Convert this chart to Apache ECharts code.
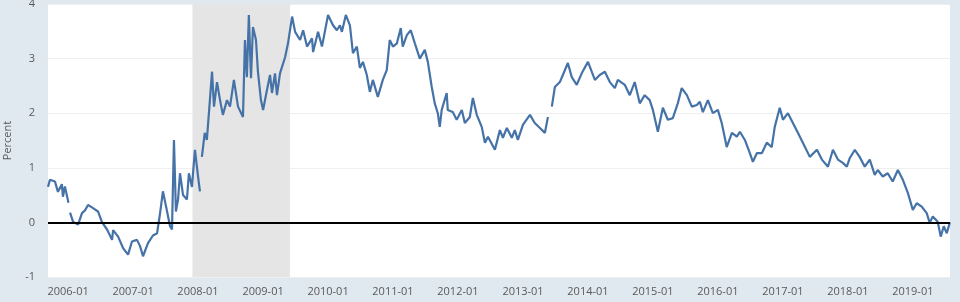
<!DOCTYPE html>
<html>
<head>
<meta charset="utf-8">
<script src="https://cdn.jsdelivr.net/npm/echarts@6/dist/echarts.min.js"></script>
<style>
html,body{margin:0;padding:0;background:#e1e9f0;}
#chart{width:960px;height:302px;}
</style>
</head>
<body>
<div id="chart"></div>
<script>
const dates = [
'2005-09-10','2005-09-21','2005-10-19','2005-11-05','2005-11-27','2005-12-03','2005-12-14',
'2006-01-03','2006-01-07','2006-01-12','2006-01-29','2006-02-26','2006-03-20','2006-04-06','2006-04-23','2006-05-21','2006-06-18','2006-07-11','2006-08-08','2006-09-05','2006-09-11','2006-10-09','2006-11-06','2006-12-04','2006-12-26',
'2007-01-23','2007-02-09','2007-02-26','2007-03-26','2007-04-23','2007-05-16','2007-06-02','2007-06-18','2007-07-05','2007-07-28','2007-08-08','2007-08-19','2007-08-30','2007-09-11','2007-09-22','2007-10-09','2007-10-31','2007-11-11','2007-11-28','2007-12-15',
'2008-01-01','2008-01-12','2008-01-17','2008-01-23','2008-02-08','2008-02-20','2008-03-08','2008-03-20','2008-03-31','2008-04-17','2008-05-04','2008-05-20','2008-06-12','2008-06-29','2008-07-21','2008-08-13','2008-09-04','2008-09-10','2008-09-21','2008-10-02','2008-10-13','2008-10-25','2008-11-05','2008-11-22','2008-12-03','2008-12-20',
'2009-01-01','2009-01-23','2009-02-09','2009-02-20','2009-03-09','2009-03-20','2009-04-06','2009-05-05','2009-05-21','2009-06-13','2009-06-30','2009-07-28','2009-08-14','2009-09-05','2009-09-11','2009-10-03','2009-10-09','2009-11-06','2009-11-28',
'2010-01-01','2010-01-29','2010-02-20','2010-03-09','2010-03-20','2010-04-11','2010-05-04','2010-05-21','2010-06-12','2010-06-29','2010-07-16','2010-08-07','2010-08-24','2010-09-10','2010-10-08','2010-11-05','2010-11-27','2010-12-14',
'2011-01-01','2011-01-23','2011-02-14','2011-02-25','2011-03-20','2011-04-11','2011-05-04','2011-06-01','2011-06-29','2011-07-16','2011-08-07','2011-08-24','2011-09-10','2011-09-21','2011-10-02','2011-10-30','2011-11-05','2011-12-03','2011-12-25',
'2012-01-23','2012-02-09','2012-03-08','2012-03-25','2012-04-16','2012-05-14','2012-06-01','2012-06-18','2012-07-27','2012-08-24','2012-09-10','2012-10-02','2012-10-30','2012-11-16','2012-12-03',
'2013-01-01','2013-02-09','2013-03-08','2013-04-06','2013-05-04','2013-05-21','2013-05-26','2013-06-12','2013-06-29','2013-07-27','2013-08-13','2013-09-10','2013-10-02','2013-10-30','2013-11-27',
'2014-01-01','2014-02-09','2014-03-08','2014-04-06','2014-05-04','2014-06-01','2014-06-18','2014-07-27','2014-08-24','2014-09-21','2014-10-19','2014-11-16','2014-12-14',
'2015-01-01','2015-01-29','2015-02-26','2015-03-26','2015-04-23','2015-05-21','2015-06-12','2015-07-11','2015-08-08','2015-09-05','2015-09-22','2015-10-09','2015-11-06','2015-12-04',
'2016-01-01','2016-01-23','2016-02-20','2016-03-20','2016-04-17','2016-05-04','2016-06-01','2016-06-29','2016-07-16','2016-08-08','2016-09-05','2016-10-02','2016-10-30','2016-11-16','2016-12-14',
'2017-01-01','2017-01-29','2017-02-26','2017-03-26','2017-04-23','2017-06-01','2017-07-11','2017-08-08','2017-09-11','2017-10-09','2017-11-06','2017-12-04','2017-12-26',
'2018-01-12','2018-02-09','2018-03-08','2018-04-06','2018-05-04','2018-06-01','2018-06-18','2018-07-16','2018-08-13','2018-09-10','2018-10-09','2018-11-06','2018-12-04',
'2019-01-01','2019-01-23','2019-02-20','2019-03-20','2019-04-06','2019-04-23','2019-05-21','2019-06-07','2019-06-24','2019-07-11','2019-07-28'
];
const spread = [
0.65,0.78,0.75,0.56,0.70,0.47,0.66,
0.36,null,0.18,0.01,-0.04,0.17,0.22,0.32,0.26,0.20,0.00,-0.13,-0.32,-0.14,-0.26,-0.47,-0.59,-0.35,
-0.32,-0.43,-0.62,-0.38,-0.24,-0.20,0.17,0.57,0.30,-0.07,-0.13,1.51,0.20,0.42,0.90,0.50,0.42,0.90,0.65,1.33,
0.85,0.57,null,1.20,1.64,1.51,2.24,2.76,2.12,2.57,2.24,1.97,2.24,2.12,2.61,2.12,1.97,1.93,3.34,2.66,3.80,2.64,3.58,3.34,2.76,2.24,
2.06,2.43,2.70,2.37,2.73,2.33,2.73,3.03,3.28,3.77,3.49,3.34,3.52,3.22,3.19,3.37,3.12,3.49,3.22,
3.80,3.61,3.52,3.61,3.49,3.80,3.61,3.10,3.22,2.83,2.94,2.70,2.39,2.61,2.30,2.61,2.79,3.34,
3.22,3.28,3.56,3.22,3.43,3.52,3.28,3.00,3.16,2.94,2.48,2.18,2.00,1.75,2.06,2.37,2.06,2.02,1.88,
2.06,1.82,1.93,2.28,1.97,1.75,1.46,1.57,1.33,1.69,1.55,1.73,1.55,1.69,1.51,
1.79,1.97,1.82,1.73,1.64,1.93,null,2.12,2.48,2.57,2.70,2.92,2.66,2.52,2.73,
2.94,2.61,2.70,2.76,2.57,2.46,2.61,2.52,2.33,2.57,2.18,2.33,2.24,
2.06,1.66,2.10,1.88,1.91,2.18,2.46,2.33,2.12,2.15,2.21,2.02,2.24,2.00,
2.06,1.82,1.38,1.64,1.57,1.66,1.51,1.27,1.11,1.27,1.27,1.46,1.38,1.75,2.10,
1.88,2.00,1.82,1.64,1.46,1.20,1.33,1.15,1.02,1.33,1.15,1.09,1.02,
1.18,1.33,1.20,1.02,1.15,0.87,0.96,0.84,0.90,0.75,0.96,0.78,0.54,
0.23,0.35,0.29,0.17,-0.01,0.11,0.01,-0.26,-0.07,-0.20,0.00
];
const recession = ['2007-12-01','2009-06-01'];
const yTicks = [-1, 0, 1, 2, 3, 4];

const chart = echarts.init(document.getElementById('chart'));
const fontFam = '"Open Sans", "Noto Sans", sans-serif';
chart.setOption({
  backgroundColor: '#e1e9f0',
  animation: false,
  grid: {left: 48, right: 10, top: 4, bottom: 25, show: true, backgroundColor: '#ffffff', borderWidth: 0,
         containLabel: false, outerBoundsMode: 'none'},
  xAxis: {
    type: 'time',
    min: '2005-09-10',
    max: '2019-07-29',
    minInterval: 365 * 24 * 3600 * 1000,
    maxInterval: 366 * 24 * 3600 * 1000,
    axisLine: {show: false},
    axisTick: {show: false},
    splitLine: {show: false},
    axisLabel: {
      color: '#595959', fontSize: 11, fontFamily: fontFam, margin: 9,
      formatter: function (v) {
        const d = new Date(v);
        const m = d.getMonth() + 1;
        return d.getFullYear() + '-' + (m < 10 ? '0' + m : m);
      }
    }
  },
  yAxis: {
    type: 'value',
    min: yTicks[0],
    max: yTicks[yTicks.length - 1],
    interval: 1,
    name: 'Percent',
    nameLocation: 'middle',
    nameGap: 35,
    nameTextStyle: {color: '#595959', fontSize: 11, fontFamily: fontFam},
    axisLine: {show: false},
    axisTick: {show: false},
    axisLabel: {color: '#595959', fontSize: 11, fontFamily: fontFam, margin: 13},
    splitLine: {show: true, lineStyle: {color: '#efefef', width: 1}}
  },
  series: [{
    type: 'line',
    data: dates.map((d, i) => [d, spread[i]]),
    showSymbol: false,
    connectNulls: false,
    lineStyle: {color: '#4572a7', width: 2.2},
    itemStyle: {color: '#4572a7'},
    z: 3,
    markArea: {
      silent: true,
      itemStyle: {color: '#e5e5e5'},
      data: [[{xAxis: recession[0]}, {xAxis: recession[1]}]]
    },
    markLine: {
      silent: true,
      symbol: 'none',
      label: {show: false},
      lineStyle: {color: '#000000', width: 2, type: 'solid'},
      data: [{yAxis: 0}]
    }
  }]
});
</script>
</body>
</html>
